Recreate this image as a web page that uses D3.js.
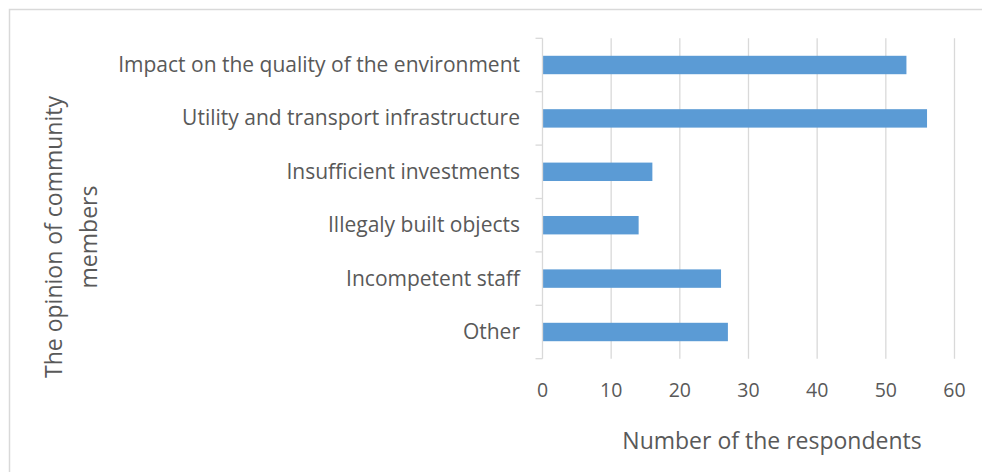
<!DOCTYPE html>
<html>

<head>
    <title>opinion bars</title>
    <script src="https://cdnjs.cloudflare.com/ajax/libs/d3/7.8.5/d3.min.js"></script>
    <style>
        body { margin: 0; background: #fff; }
        text { fill: #595959; }
    </style>
</head>

<body>

    <script>
        // categories, top to bottom
        var categories = [
            'Impact on the quality of the environment',
            'Utility and transport infrastructure',
            'Insufficient investments',
            'Illegaly built objects',
            'Incompetent staff',
            'Other'
        ];
        var values = [53, 56, 16, 14, 26, 27];
        var xTicks = [0, 10, 20, 30, 40, 50, 60];
        var xTitle = 'Number of the respondents';
        var yTitle = ['The opinion of community', 'members'];

        var width = 982,
            height = 472;

        var svg = d3.select('body')
            .append('svg')
            .attr('width', width)
            .attr('height', height);

        // outer chart border (runs off right/bottom edge)
        svg.append('rect')
            .attr('x', 9.5)
            .attr('y', 9.5)
            .attr('width', 1000)
            .attr('height', 500)
            .attr('fill', 'none')
            .attr('stroke', '#d9d9d9')
            .attr('stroke-width', 1.5);

        // plot area (note: "top" is taken by window.top)
        var plotLeft = 542.5, plotRight = 954.5, plotTop = 38.3, plotBottom = 358.7;

        var x = d3.scaleLinear()
            .domain([0, 60])
            .range([plotLeft, plotRight]);

        var y = d3.scaleBand()
            .domain(categories)
            .range([plotTop, plotBottom])
            .paddingInner(0.655)
            .paddingOuter(0.3275);

        var yEdges = d3.scaleBand()
            .domain(categories)
            .range([plotTop, plotBottom]);

        // gridlines
        svg.append('g')
            .selectAll('line')
            .data(xTicks.slice(1))
            .join('line')
            .attr('x1', function (d) { return x(d); })
            .attr('x2', function (d) { return x(d); })
            .attr('y1', plotTop)
            .attr('y2', plotBottom)
            .attr('stroke', '#d9d9d9')
            .attr('stroke-width', 1.3);

        // bars
        svg.append('g')
            .selectAll('rect')
            .data(categories)
            .join('rect')
            .attr('x', x(0))
            .attr('y', function (d) { return y(d); })
            .attr('width', function (d, i) { return x(values[i]) - x(0); })
            .attr('height', y.bandwidth())
            .attr('fill', '#5b9bd5');

        // category axis line + tick marks between bands
        svg.append('line')
            .attr('x1', plotLeft).attr('x2', plotLeft)
            .attr('y1', plotTop).attr('y2', plotBottom)
            .attr('stroke', '#d9d9d9')
            .attr('stroke-width', 1.3);

        var edges = categories.map(function (d) { return yEdges(d); }).concat([plotBottom]);
        svg.append('g')
            .selectAll('line')
            .data(edges)
            .join('line')
            .attr('x1', plotLeft - 7)
            .attr('x2', plotLeft)
            .attr('y1', function (d) { return d; })
            .attr('y2', function (d) { return d; })
            .attr('stroke', '#d9d9d9')
            .attr('stroke-width', 1.3);

        // category labels
        svg.append('g')
            .selectAll('text')
            .data(categories)
            .join('text')
            .attr('x', 520)
            .attr('y', function (d) { return y(d) + y.bandwidth() / 2; })
            .attr('dy', '0.33em')
            .attr('text-anchor', 'end')
            .style('font-family', 'Open Sans')
            .style('font-size', '21px')
            .text(function (d) { return d; });

        // value tick labels
        svg.append('g')
            .selectAll('text')
            .data(xTicks)
            .join('text')
            .attr('x', function (d) { return x(d); })
            .attr('y', 397)
            .attr('text-anchor', 'middle')
            .style('font-family', 'Open Sans')
            .style('font-size', '19.5px')
            .text(function (d) { return d; });

        // axis titles
        svg.append('text')
            .attr('x', 772)
            .attr('y', 449)
            .attr('text-anchor', 'middle')
            .style('font-family', 'Open Sans')
            .style('font-size', '23px')
            .text(xTitle);

        svg.append('g')
            .attr('transform', 'translate(62, 237) rotate(-90)')
            .selectAll('text')
            .data(yTitle)
            .join('text')
            .attr('x', 0)
            .attr('y', function (d, i) { return i * 35; })
            .attr('text-anchor', 'middle')
            .style('font-family', 'Open Sans')
            .style('font-size', '23px')
            .text(function (d) { return d; });
    </script>

</body>

</html>
